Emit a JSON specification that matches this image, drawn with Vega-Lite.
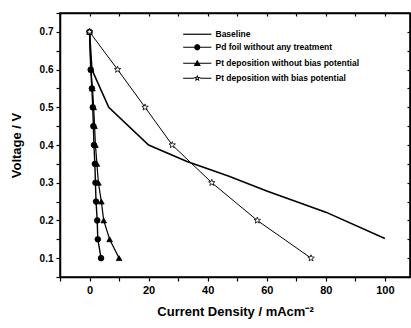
{
  "$schema": "https://vega.github.io/schema/vega-lite/v6.json",
  "width": 350,
  "height": 264,
  "autosize": "none",
  "padding": {"left": 60, "top": 13, "right": 1, "bottom": 51},
  "background": "white",
  "config": {
    "font": "Liberation Sans",
    "view": {"stroke": "black", "strokeWidth": 1.5},
    "axis": {"grid": false, "domainColor": "black", "domainWidth": 1.5, "tickColor": "black", "tickWidth": 1.2, "labelColor": "black", "titleColor": "black", "labelFont": "Liberation Sans", "titleFont": "Liberation Sans", "labelFontWeight": "bold", "titleFontWeight": "bold"}
  },
  "data": {"values": [
    {"series": "Baseline", "x": 0, "v": 0.7},
    {"series": "Baseline", "x": 0.8, "v": 0.6},
    {"series": "Baseline", "x": 6.5, "v": 0.5},
    {"series": "Baseline", "x": 20, "v": 0.4},
    {"series": "Baseline", "x": 33, "v": 0.356},
    {"series": "Baseline", "x": 47, "v": 0.318},
    {"series": "Baseline", "x": 60, "v": 0.278},
    {"series": "Baseline", "x": 80, "v": 0.222},
    {"series": "Baseline", "x": 100, "v": 0.152},
    {"series": "Pd foil without any treatment", "x": 0, "v": 0.7},
    {"series": "Pd foil without any treatment", "x": 0.4, "v": 0.6},
    {"series": "Pd foil without any treatment", "x": 0.8, "v": 0.55},
    {"series": "Pd foil without any treatment", "x": 1.1, "v": 0.5},
    {"series": "Pd foil without any treatment", "x": 1.3, "v": 0.45},
    {"series": "Pd foil without any treatment", "x": 1.5, "v": 0.4},
    {"series": "Pd foil without any treatment", "x": 1.8, "v": 0.35},
    {"series": "Pd foil without any treatment", "x": 2.0, "v": 0.3},
    {"series": "Pd foil without any treatment", "x": 2.2, "v": 0.25},
    {"series": "Pd foil without any treatment", "x": 2.6, "v": 0.2},
    {"series": "Pd foil without any treatment", "x": 2.8, "v": 0.15},
    {"series": "Pd foil without any treatment", "x": 3.9, "v": 0.1},
    {"series": "Pt deposition without bias potential", "x": 0, "v": 0.7},
    {"series": "Pt deposition without bias potential", "x": 0.5, "v": 0.6},
    {"series": "Pt deposition without bias potential", "x": 1.0, "v": 0.55},
    {"series": "Pt deposition without bias potential", "x": 1.4, "v": 0.5},
    {"series": "Pt deposition without bias potential", "x": 1.7, "v": 0.45},
    {"series": "Pt deposition without bias potential", "x": 2.0, "v": 0.4},
    {"series": "Pt deposition without bias potential", "x": 2.5, "v": 0.35},
    {"series": "Pt deposition without bias potential", "x": 3.0, "v": 0.3},
    {"series": "Pt deposition without bias potential", "x": 4.0, "v": 0.25},
    {"series": "Pt deposition without bias potential", "x": 4.8, "v": 0.2},
    {"series": "Pt deposition without bias potential", "x": 6.8, "v": 0.15},
    {"series": "Pt deposition without bias potential", "x": 10, "v": 0.1},
    {"series": "Pt deposition with bias potential", "x": 0, "v": 0.7},
    {"series": "Pt deposition with bias potential", "x": 9.5, "v": 0.6},
    {"series": "Pt deposition with bias potential", "x": 18.8, "v": 0.5},
    {"series": "Pt deposition with bias potential", "x": 28, "v": 0.4},
    {"series": "Pt deposition with bias potential", "x": 41.4, "v": 0.3},
    {"series": "Pt deposition with bias potential", "x": 56.8, "v": 0.2},
    {"series": "Pt deposition with bias potential", "x": 75, "v": 0.1}
  ]},
  "resolve": {"scale": {"shape": "independent", "fill": "independent", "strokeWidth": "independent"}, "axis": {"x": "independent", "y": "independent"}},
  "layer": [
    {
      "mark": {"type": "line", "color": "black"},
      "encoding": {
        "x": {"field": "x", "type": "quantitative", "scale": {"domain": [-10, 108.5], "nice": false, "zero": false},
          "axis": {"orient": "bottom", "title": "Current Density / mAcm⁻²", "values": [-10, 0, 10, 20, 30, 40, 50, 60, 70, 80, 90, 100], "labelExpr": "datum.value % 20 == 0 ? datum.label : ''", "tickSize": 4, "labelFontSize": 11, "titleFontSize": 13, "titlePadding": 10, "labelPadding": 3}},
        "y": {"field": "v", "type": "quantitative", "scale": {"domain": [0.05, 0.75], "nice": false, "zero": false},
          "axis": {"orient": "left", "title": "Voltage / V", "values": [0.05, 0.1, 0.15, 0.2, 0.25, 0.3, 0.35, 0.4, 0.45, 0.5, 0.55, 0.6, 0.65, 0.7, 0.75], "labelExpr": "abs(datum.value*10 - round(datum.value*10)) < 0.01 ? format(datum.value, '.1f') : ''", "tickSize": 4, "labelFontSize": 10, "titleFontSize": 13, "titlePadding": 16, "labelPadding": 3}},
        "detail": {"field": "series"},
        "order": {"field": "v", "sort": "descending"},
        "strokeWidth": {"field": "series", "type": "nominal", "scale": {"domain": ["Baseline", "Pd foil without any treatment", "Pt deposition without bias potential", "Pt deposition with bias potential"], "range": [1.6, 1, 1, 1]}, "legend": null}
      }
    },
    {
      "transform": [{"filter": "datum.series != 'Baseline'"}],
      "mark": {"type": "point", "filled": true, "stroke": "black", "strokeWidth": 0.8, "opacity": 1},
      "encoding": {
        "x": {"field": "x", "type": "quantitative", "axis": null},
        "y": {"field": "v", "type": "quantitative", "axis": null},
        "shape": {"field": "series", "type": "nominal", "scale": {"domain": ["Pd foil without any treatment", "Pt deposition without bias potential", "Pt deposition with bias potential"], "range": ["circle", "triangle-up", "M0,-1.2L0.294,-0.405L1.141,-0.371L0.476,0.155L0.705,0.971L0,0.5L-0.705,0.971L-0.476,0.155L-1.141,-0.371L-0.294,-0.405Z"]}, "legend": null},
        "fill": {"field": "series", "type": "nominal", "scale": {"domain": ["Pd foil without any treatment", "Pt deposition without bias potential", "Pt deposition with bias potential"], "range": ["black", "black", "white"]}, "legend": null},
        "size": {"value": 32}
      }
    },
    {
      "transform": [{"filter": "datum.v == 0.7"}],
      "mark": {"type": "point", "filled": true, "opacity": 0, "color": "black", "fill": "black"},
      "encoding": {
        "x": {"field": "x", "type": "quantitative", "axis": {"orient": "top", "labels": false, "title": null, "values": [-10, 0, 10, 20, 30, 40, 50, 60, 70, 80, 90, 100], "tickSize": -3}},
        "y": {"field": "v", "type": "quantitative", "axis": {"orient": "right", "labels": false, "title": null, "values": [0.05, 0.1, 0.15, 0.2, 0.25, 0.3, 0.35, 0.4, 0.45, 0.5, 0.55, 0.6, 0.65, 0.7, 0.75], "tickSize": -3}},
        "size": {"value": 36},
        "shape": {"field": "series", "type": "nominal", "title": null,
          "scale": {"domain": ["Baseline", "Pd foil without any treatment", "Pt deposition without bias potential", "Pt deposition with bias potential"],
            "range": [
              "M-4.7,-0.2L4.7,-0.2L4.7,0.2L-4.7,0.2Z",
              "M-4.7,-0.17L4.7,-0.17L4.7,0.17L-4.7,0.17ZM1.05,0L0.91,0.525L0.525,0.91L0,1.05L-0.525,0.91L-0.91,0.525L-1.05,0L-0.91,-0.525L-0.525,-0.91L0,-1.05L0.525,-0.91L0.91,-0.525Z",
              "M-4.7,-0.17L4.7,-0.17L4.7,0.17L-4.7,0.17ZM0,-1.15L1.2,0.9L-1.2,0.9Z",
              "M-4.7,-0.17L-1.0,-0.17L-1.0,0.17L-4.7,0.17ZM1.0,-0.17L4.7,-0.17L4.7,0.17L1.0,0.17ZM0,-1.25L0.306,-0.421L1.189,-0.386L0.495,0.161L0.735,1.011L0,0.52L-0.735,1.011L-0.495,0.161L-1.189,-0.386L-0.306,-0.421ZM0,-0.375L-0.092,-0.126L-0.357,-0.116L-0.149,0.048L-0.221,0.303L0,0.156L0.221,0.303L0.149,0.048L0.357,-0.116L0.092,-0.126Z"
            ]},
          "legend": {"orient": "none", "legendX": 133, "legendY": 17, "padding": 0, "rowPadding": 2, "labelOffset": 14, "labelFontSize": 8.5, "labelFontWeight": "bold", "labelColor": "black", "labelFont": "Liberation Sans", "symbolSize": 36, "labelLimit": 300, "symbolFillColor": "black",
            "encode": {"symbols": {"update": {"fill": {"value": "black"}, "stroke": {"value": "transparent"}, "strokeWidth": {"value": 0}, "opacity": {"value": 1}, "fillOpacity": {"value": 1}, "strokeOpacity": {"value": 0}}}}}}
      }
    }
  ]
}
